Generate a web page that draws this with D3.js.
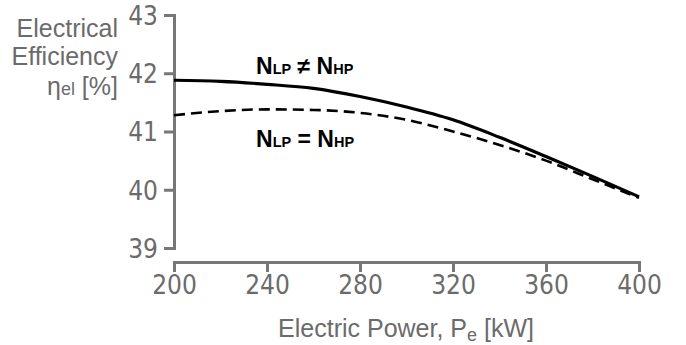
<!DOCTYPE html>
<html>
<head>
<meta charset="utf-8">
<script src="https://cdn.jsdelivr.net/npm/d3@7"></script>
<style>
  body { margin: 0; background: #fff; }
  svg { display: block; }
</style>
</head>
<body>
<div id="chart"></div>
<script>
const power = [200, 220, 240, 260, 280, 300, 320, 340, 360, 380, 400];
const effUnequal = [41.88, 41.86, 41.81, 41.74, 41.60, 41.42, 41.20, 40.90, 40.57, 40.23, 39.88];
const effEqual = [41.28, 41.35, 41.38, 41.37, 41.32, 41.20, 41.00, 40.77, 40.50, 40.18, 39.86];
const xTicks = [200, 240, 280, 320, 360, 400];
const yTicks = [39, 40, 41, 42, 43];

const width = 686;
const height = 345;
const grey = "#6b6b6b";
const axisGrey = "#777";
const tickFont = "'Liberation Sans Narrow', 'DejaVu Sans Condensed', sans-serif";
const titleFont = "'Liberation Sans', Arial, sans-serif";

const svg = d3.select("#chart").append("svg")
  .attr("width", width)
  .attr("height", height);

const x = d3.scaleLinear().domain([200, 400]).range([174, 639]);
const y = d3.scaleLinear().domain([39, 43]).range([248, 15]);

// axes
const xAxis = svg.append("g")
  .attr("transform", "translate(0,262)")
  .call(d3.axisBottom(x).tickValues(xTicks).tickFormat(d3.format("d"))
    .tickSize(10).tickSizeOuter(10).tickPadding(4));

const yAxis = svg.append("g")
  .attr("transform", "translate(174,0)")
  .call(d3.axisLeft(y).tickValues(yTicks).tickFormat(d3.format("d"))
    .tickSize(10).tickSizeOuter(10).tickPadding(6));

[xAxis, yAxis].forEach(a => {
  a.selectAll("path, line")
    .attr("stroke", axisGrey)
    .attr("stroke-width", 3);
  a.selectAll("text")
    .attr("fill", grey)
    .attr("font-family", tickFont)
    .attr("font-size", 26);
});
yAxis.selectAll("text").attr("dy", "0.36em");

// lines
const line = d3.line()
  .x((d, i) => x(power[i]))
  .y(d => y(d))
  .curve(d3.curveMonotoneX);

svg.append("path")
  .datum(effUnequal)
  .attr("fill", "none")
  .attr("stroke", "#000")
  .attr("stroke-width", 3.2)
  .attr("d", line);

svg.append("path")
  .datum(effEqual)
  .attr("fill", "none")
  .attr("stroke", "#000")
  .attr("stroke-width", 2.6)
  .attr("stroke-dasharray", "11,6")
  .attr("d", line);

// curve labels
function curveLabel(xp, yp, sign) {
  const t = svg.append("text")
    .attr("x", xp)
    .attr("y", yp)
    .attr("font-family", titleFont)
    .attr("font-weight", "bold")
    .attr("font-size", 23)
    .attr("fill", "#000");
  t.append("tspan").text("N");
  t.append("tspan").attr("font-size", 14.5).text("LP");
  t.append("tspan").text(" " + sign + " N");
  t.append("tspan").attr("font-size", 14.5).text("HP");
}
curveLabel(256, 74, "\u2260");
curveLabel(256, 147, "=");

// y title
const yTitle = svg.append("g")
  .attr("font-family", titleFont)
  .attr("font-size", 25)
  .attr("fill", grey)
  .attr("text-anchor", "end");
yTitle.append("text").attr("x", 118).attr("y", 37).text("Electrical");
yTitle.append("text").attr("x", 118).attr("y", 65).text("Efficiency");
const eta = yTitle.append("text").attr("x", 118).attr("y", 95);
eta.append("tspan").text("\u03b7");
eta.append("tspan").attr("font-size", 18).text("el");
eta.append("tspan").text(" [%]");

// x title
const xTitle = svg.append("text")
  .attr("x", 406)
  .attr("y", 337)
  .attr("text-anchor", "middle")
  .attr("font-family", titleFont)
  .attr("font-size", 25)
  .attr("fill", grey);
xTitle.append("tspan").text("Electric Power, P");
xTitle.append("tspan").attr("font-size", 18).attr("dy", 4).text("e");
xTitle.append("tspan").attr("dy", -4).text(" [kW]");
</script>
</body>
</html>
